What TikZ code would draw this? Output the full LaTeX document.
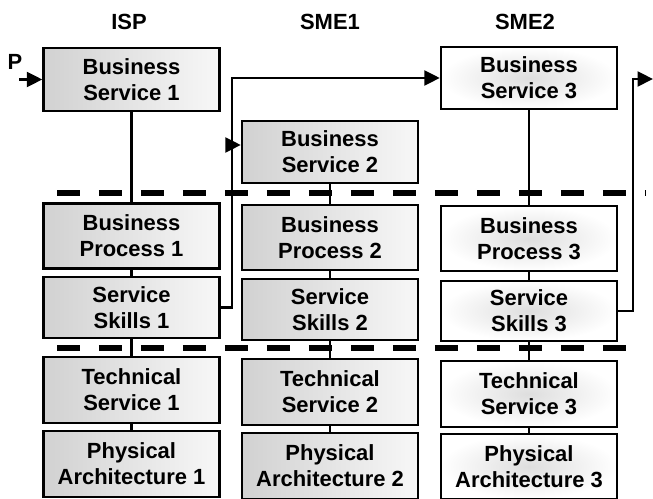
\documentclass[tikz,border=0pt]{standalone}
\usepackage{fontspec}
\setmainfont{Liberation Sans}
\usetikzlibrary{arrows.meta}

\begin{document}
\begin{tikzpicture}[x=0.02cm, y=-0.02cm,
  layer/.style={draw, line width=1.4pt, minimum width=3.52cm, minimum height=1.26cm,
    inner sep=0pt, align=center, font=\fontsize{12.5}{14.7}\selectfont\bfseries},
  graybox/.style={layer, left color=black!18, right color=black!3},
  whitebox/.style={layer, inner color=black!13, outer color=white},
  link/.style={line width=1.2pt},
  flow/.style={line width=1.2pt, -{Triangle[length=3.1mm, width=3mm]}},
  border/.style={line width=2.9pt, dash pattern=on 13.1pt off 10.8pt},
  head/.style={font=\fontsize{12.5}{14}\selectfont\bfseries}]

 \useasboundingbox (0,0) rectangle (653,499);

 % column headings
 \node[head] (isp) at (129,22) {ISP};
 \node[head] (sme1) at (330,22) {SME1};
 \node[head] (sme2) at (525,22) {SME2};
 \node[head] (p) at (15,62) {P};

 % dashed layer borders
 \coordinate (d1a) at (57,193);
 \coordinate (d1b) at (646,193);
 \coordinate (d2a) at (57,348);
 \coordinate (d2b) at (626,348);
 \draw[border] (d1a) -- (d1b);
 \draw[border] (d2a) -- (d2b);

 % ISP
 \node[graybox] (bs1) at (131.5,79.5) {Business\\Service 1};
 \node[graybox, minimum height=1.3cm] (bp1) at (131.5,236) {Business\\Process 1};
 \node[graybox, minimum height=1.22cm] (ss1) at (131.5,307.5) {Service\\Skills 1};
 \node[graybox, minimum height=1.32cm] (ts1) at (131.5,390) {Technical\\Service 1};
 \node[graybox, minimum height=1.32cm] (pa1) at (131.5,464) {Physical\\Architecture 1};

 % SME1
 \node[graybox, minimum height=1.24cm] (bs2) at (330,152) {Business\\Service 2};
 \node[graybox, minimum height=1.3cm] (bp2) at (330,237.5) {Business\\Process 2};
 \node[graybox, minimum height=1.22cm] (ss2) at (330,309.5) {Service\\Skills 2};
 \node[graybox, minimum height=1.32cm] (ts2) at (330,392) {Technical\\Service 2};
 \node[graybox, minimum height=1.32cm] (pa2) at (330,466) {Physical\\Architecture 2};

 % SME2
 \node[whitebox, minimum height=1.24cm] (bs3) at (529,78) {Business\\Service 3};
 \node[whitebox, minimum height=1.3cm] (bp3) at (529,238.5) {Business\\Process 3};
 \node[whitebox, minimum height=1.2cm] (ss3) at (529,311) {Service\\Skills 3};
 \node[whitebox, minimum height=1.32cm] (ts3) at (529,394) {Technical\\Service 3};
 \node[whitebox, minimum height=1.3cm] (pa3) at (529,466.5) {Physical\\Architecture 3};

 % stacks
 \draw[link] (bs1) -- (bp1) -- (ss1) -- (ts1) -- (pa1);
 \draw[link] (bs2) -- (bp2) -- (ss2) -- (ts2) -- (pa2);
 \draw[link] (bs3) -- (bp3) -- (ss3) -- (ts3) -- (pa3);

 % service chain
 \coordinate (pin) at (19,79.5);
 \coordinate (j1) at (232,78);
 \coordinate (j2) at (232,145);
 \coordinate (j3) at (633,79);
 \coordinate (pout) at (653,79);
 \draw[flow] (pin) -- (bs1.west);
 \draw[flow] (ss1.east) -| (j1) -- (bs3.west);
 \draw[flow] (j2) -- (j2 -| bs2.west);
 \draw[flow] (ss3.east) -| (j3) -- (pout);
\end{tikzpicture}
\end{document}
